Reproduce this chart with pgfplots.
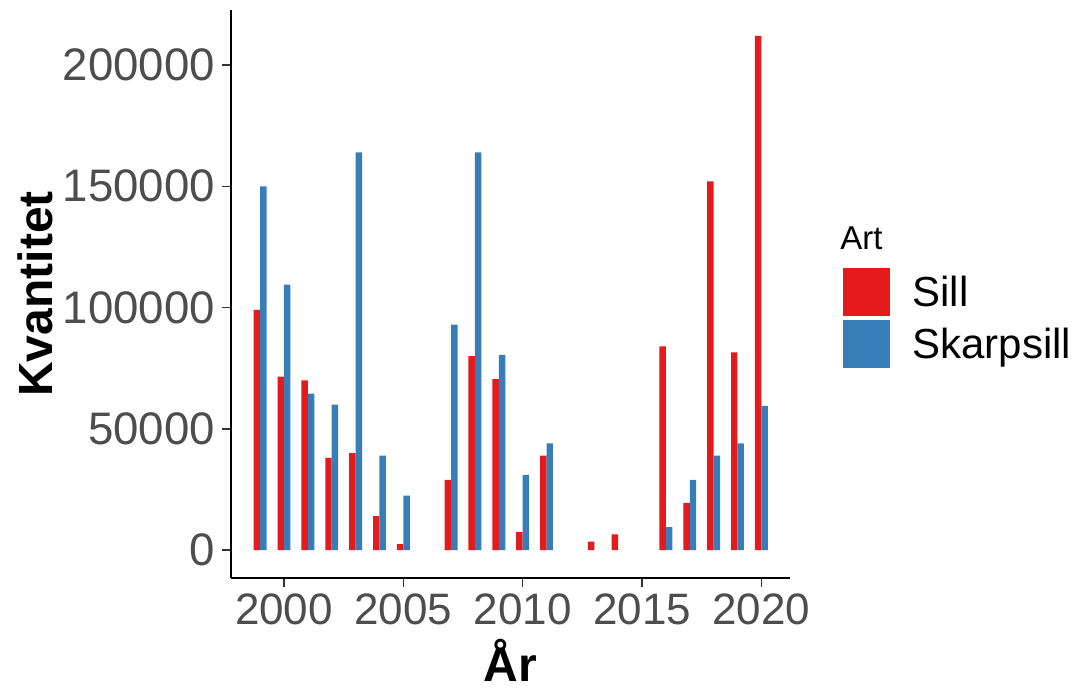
\documentclass[border=0pt]{standalone}
\usepackage{fontspec}
\setmainfont{Liberation Sans}
\usepackage{pgfplots}
\pgfplotsset{compat=1.18}
\definecolor{sill}{HTML}{E41A1C}
\definecolor{skarp}{HTML}{377EB8}
\definecolor{tickgray}{HTML}{4D4D4D}
\pgfplotstableread{
year sill
1999 99000
2000 71500
2001 70000
2002 38000
2003 40000
2004 14000
2005 2500
2007 29000
2008 80000
2009 70500
2010 7500
2011 39000
2013 3500
2014 6500
2016 84000
2017 19500
2018 152000
2019 81500
2020 212000
}\silltable
\pgfplotstableread{
year skarp
1999 150000
2000 109500
2001 64500
2002 60000
2003 164000
2004 39000
2005 22500
2007 93000
2008 164000
2009 80500
2010 31000
2011 44000
2016 9500
2017 29000
2018 39000
2019 44000
2020 59500
}\skarptable
\begin{document}
\begin{tikzpicture}
\begin{axis}[
  scale only axis, width=279.5pt, height=284pt,
  xmin=1997.78, xmax=2021.2, ymin=-11500, ymax=222700,
  clip=false,
  axis lines*=left,
  axis line style={black, line width=1pt, -},
  tick align=outside, major tick length=4.5pt,
  tick style={draw=black!80, line width=0.8pt},
  xtick={2000,2005,...,2020}, ytick={0,50000,...,200000},
  scaled y ticks=false,
  /pgf/number format/assume math mode=true,
  xticklabel style={/pgf/number format/1000 sep={}, font=\fontsize{22}{22}\selectfont, text=tickgray},
  yticklabel style={/pgf/number format/fixed, /pgf/number format/1000 sep={}, font=\fontsize{22.8}{22.8}\selectfont, text=tickgray},
  xlabel={År}, ylabel={Kvantitet},
  label style={font=\bfseries\fontsize{24}{24}\selectfont},
  ylabel style={at={(axis description cs:-0.3506,0.5)}, anchor=center},
  xlabel style={at={(axis description cs:0.5,-0.1820)}, anchor=base, inner sep=0pt},
  legend style={at={(axis description cs:1.0948,0.5458)}, anchor=north west,
    draw=none, fill=none, inner sep=0pt, row sep=2pt, column sep=11pt,
    nodes={inner sep=0pt},
    font=\fontsize{21}{21}\selectfont, cells={anchor=west}},
  mykey/.style={legend image code/.code={\fill[##1] (0pt,-12pt) rectangle (23.5pt,12pt);}},
]
\addplot[ybar, fill=sill, draw=none, bar width=0.27, bar shift=-0.135, mykey] table[x=year, y=sill] {\silltable};
\addlegendentry{Sill}
\addplot[ybar, fill=skarp, draw=none, bar width=0.27, bar shift=0.135, mykey] table[x=year, y=skarp] {\skarptable};
\addlegendentry{Skarpsill}
\node[anchor=base west, font=\fontsize{16.5}{16.5}\selectfont, inner sep=0pt] at (axis description cs:1.0894,0.5775) {Art};
\end{axis}
\path (current axis.south west) ++(-115.5pt,-55pt) rectangle ++(537.5pt,344pt);
\end{tikzpicture}
\end{document}
